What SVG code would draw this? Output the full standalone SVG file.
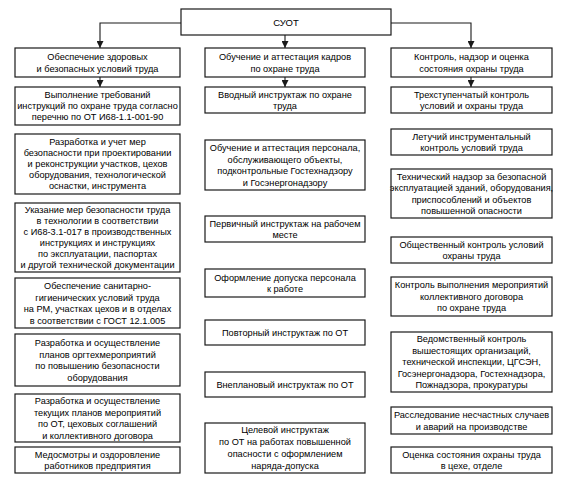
<svg xmlns="http://www.w3.org/2000/svg" width="569" height="485" viewBox="0 0 569 485">
<style>
rect.b{fill:#fff;stroke:#1a1a1a;stroke-width:1.2}
text{font-family:"Liberation Sans",Arial,sans-serif;font-size:9.2px;fill:#000;text-anchor:middle}
.c{fill:none;stroke:#1a1a1a;stroke-width:1.1}
</style>
<defs>
<marker id="ah" viewBox="0 0 8 8" refX="8" refY="4" markerWidth="7" markerHeight="7" orient="auto" markerUnits="userSpaceOnUse"><path d="M0,0 L8,4 L0,8 z" fill="#1a1a1a"/></marker>
</defs>
<rect width="569" height="485" fill="#fff"/>
<g id="connectors">
<path class="c" d="M181,23 H100 V48" marker-end="url(#ah)"/>
<path class="c" d="M285,35 V48" marker-end="url(#ah)"/>
<path class="c" d="M391,23 H471 V48" marker-end="url(#ah)"/>
<path class="c" d="M100,77 V87" marker-end="url(#ah)"/>
<path class="c" d="M285,77 V87" marker-end="url(#ah)"/>
<path class="c" d="M471,77 V87" marker-end="url(#ah)"/>
</g>
<g id="suot"><rect class="b" x="181" y="9" width="210" height="26"/><text x="286" y="25.5" style="font-size:9.5px">СУОТ</text></g>

<g id="c1h"><rect class="b" x="15" y="48" width="165" height="29"/><text x="97.5" y="59.7">Обеспечение здоровых</text><text x="97.5" y="71.7">и безопасных условий труда</text></g>
<g id="c1b1"><rect class="b" x="15" y="87" width="165" height="38"/><text x="97.5" y="98">Выполнение требований</text><text x="97.5" y="109">инструкций по охране труда согласно</text><text x="97.5" y="120">перечню по ОТ И68-1.1-001-90</text></g>
<g id="c1b2"><rect class="b" x="15" y="134" width="165" height="60"/><text x="97.5" y="145.2">Разработка и учет мер</text><text x="97.5" y="156.2">безопасности при проектировании</text><text x="97.5" y="167.2">и реконструкции участков, цехов</text><text x="97.5" y="178.2">оборудования, технологической</text><text x="97.5" y="189.2">оснастки, инструмента</text></g>
<g id="c1b3"><rect class="b" x="15" y="203" width="165" height="69"/><text x="97.5" y="213.2">Указание мер безопасности труда</text><text x="97.5" y="224.2">в технологии в соответствии</text><text x="97.5" y="235.2">с И68-3.1-017 в производственных</text><text x="97.5" y="246.2">инструкциях и инструкциях</text><text x="97.5" y="257.2">по эксплуатации, паспортах</text><text x="97.5" y="268.2">и другой технической документации</text></g>
<g id="c1b4"><rect class="b" x="15" y="278" width="165" height="50"/><text x="97.5" y="289">Обеспечение санитарно-</text><text x="97.5" y="300.5">гигиенических условий труда</text><text x="97.5" y="312">на РМ, участках цехов и в отделах</text><text x="97.5" y="323.5">в соответствии с ГОСТ 12.1.005</text></g>
<g id="c1b5"><rect class="b" x="15" y="334" width="165" height="52"/><text x="97.5" y="346">Разработка и осуществление</text><text x="97.5" y="357.5">планов оргтехмероприятий</text><text x="97.5" y="369">по повышению безопасности</text><text x="97.5" y="380.5">оборудования</text></g>
<g id="c1b6"><rect class="b" x="15" y="394" width="165" height="48"/><text x="97.5" y="404">Разработка и осуществление</text><text x="97.5" y="415.5">текущих планов мероприятий</text><text x="97.5" y="427">по ОТ, цеховых соглашений</text><text x="97.5" y="438.5">и коллективного договора</text></g>
<g id="c1b7"><rect class="b" x="15" y="447" width="165" height="26"/><text x="97.5" y="457.5">Медосмотры и оздоровление</text><text x="97.5" y="469">работников предприятия</text></g>

<g id="c2h"><rect class="b" x="205" y="48" width="160" height="29"/><text x="285" y="59.7">Обучение и аттестация кадров</text><text x="285" y="71.7">по охране труда</text></g>
<g id="c2b1"><rect class="b" x="205" y="87" width="160" height="26"/><text x="285" y="97.5">Вводный инструктаж по охране</text><text x="285" y="109">труда</text></g>
<g id="c2b2"><rect class="b" x="205" y="140" width="160" height="50"/><text x="285" y="151">Обучение и аттестация персонала,</text><text x="285" y="162.5">обслуживающего объекты,</text><text x="285" y="174">подконтрольные Гостехнадзору</text><text x="285" y="185.5">и Госэнергонадзору</text></g>
<g id="c2b3"><rect class="b" x="205" y="216" width="160" height="26"/><text x="285" y="226.5">Первичный инструктаж на рабочем</text><text x="285" y="238">месте</text></g>
<g id="c2b4"><rect class="b" x="205" y="269" width="160" height="28"/><text x="285" y="280.5">Оформление допуска персонала</text><text x="285" y="292">к работе</text></g>
<g id="c2b5"><rect class="b" x="205" y="320" width="160" height="25"/><text x="285" y="335.7">Повторный инструктаж по ОТ</text></g>
<g id="c2b6"><rect class="b" x="205" y="372" width="160" height="25"/><text x="285" y="387.7">Внеплановый инструктаж по ОТ</text></g>
<g id="c2b7"><rect class="b" x="205" y="423" width="160" height="50"/><text x="285" y="433.2">Целевой инструктаж</text><text x="285" y="445.2">по ОТ на работах повышенной</text><text x="285" y="457.2">опасности с оформлением</text><text x="285" y="469.2">наряда-допуска</text></g>

<g id="c3h"><rect class="b" x="391" y="48" width="161" height="29"/><text x="471.5" y="59.7">Контроль, надзор и оценка</text><text x="471.5" y="71.7">состояния охраны труда</text></g>
<g id="c3b1"><rect class="b" x="391" y="87" width="161" height="26"/><text x="471.5" y="97.5">Трехступенчатый контроль</text><text x="471.5" y="109">условий и охраны труда</text></g>
<g id="c3b2"><rect class="b" x="391" y="129" width="161" height="26"/><text x="471.5" y="139.5">Летучий инструментальный</text><text x="471.5" y="151">контроль условий труда</text></g>
<g id="c3b3"><rect class="b" x="391" y="169" width="161" height="49"/><text x="471.5" y="179.5">Технический надзор за безопасной</text><text x="471.5" y="191">эксплуатацией зданий, оборудования,</text><text x="471.5" y="202.5">приспособлений и объектов</text><text x="471.5" y="214">повышенной опасности</text></g>
<g id="c3b4"><rect class="b" x="391" y="237" width="161" height="26"/><text x="471.5" y="247.5">Общественный контроль условий</text><text x="471.5" y="259">охраны труда</text></g>
<g id="c3b5"><rect class="b" x="391" y="277" width="161" height="39"/><text x="471.5" y="288.2">Контроль выполнения мероприятий</text><text x="471.5" y="299.7">коллективного договора</text><text x="471.5" y="311.2">по охране труда</text></g>
<g id="c3b6"><rect class="b" x="391" y="332" width="161" height="60"/><text x="471.5" y="342.2">Ведомственный контроль</text><text x="471.5" y="353.7">вышестоящих организаций,</text><text x="471.5" y="365.2">технической инспекции, ЦГСЭН,</text><text x="471.5" y="376.7">Госэнергонадзора, Гостехнадзора,</text><text x="471.5" y="388.2">Пожнадзора, прокуратуры</text></g>
<g id="c3b7"><rect class="b" x="391" y="407" width="161" height="27"/><text x="471.5" y="418">Расследование несчастных случаев</text><text x="471.5" y="429.5">и аварий на производстве</text></g>
<g id="c3b8"><rect class="b" x="391" y="447" width="161" height="26"/><text x="471.5" y="457.5">Оценка состояния охраны труда</text><text x="471.5" y="469">в цехе, отделе</text></g>
</svg>
